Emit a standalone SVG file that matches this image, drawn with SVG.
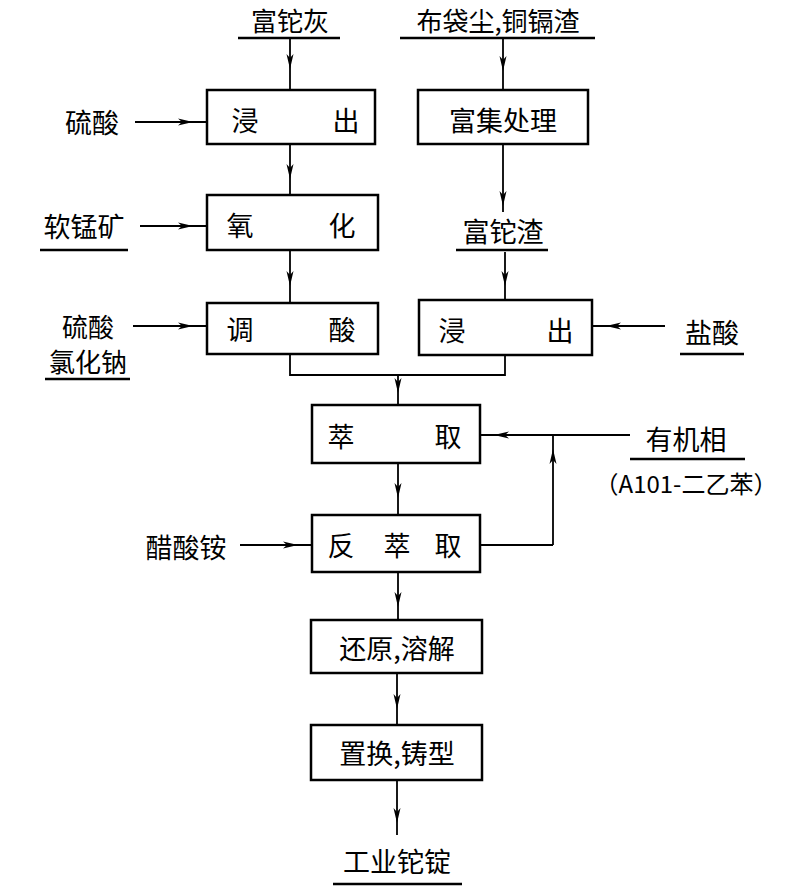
<svg xmlns="http://www.w3.org/2000/svg" width="801" height="890" viewBox="0 0 801 890">
<style>
.bx{fill:#fff;stroke:#000;stroke-width:2.5}
.ln{fill:none;stroke:#000;stroke-width:1.8}
.ul{fill:none;stroke:#000;stroke-width:2.5}
.ar{fill:none;stroke:#000;stroke-width:1.8;marker-mid:url(#ah)}
text{font-family:"Noto Sans CJK SC","Noto Sans",sans-serif;font-size:27px;fill:#000;text-anchor:middle;dominant-baseline:central}
.sm{font-size:24px}
.md{font-size:26px}
</style>
<defs>
<marker id="ah" viewBox="0 0 16 8" refX="14" refY="4" markerWidth="16" markerHeight="8" markerUnits="userSpaceOnUse" orient="auto">
<path d="M0,0.5 L15,4 L0,7.5 L4,4 Z" fill="#000"/>
</marker>
</defs>
<rect width="801" height="890" fill="#fff"/>
<g id="connectors">
<path class="ar" d="M290,38 L290,68 L290,90"/>
<path class="ar" d="M503,38 L503,70 L503,90"/>
<path class="ar" d="M290,145 L290,178 L290,195"/>
<path class="ar" d="M290,250 L290,285 L290,303"/>
<path class="ar" d="M503,143 L503,205 L503,212"/>
<path class="ar" d="M505,252 L505,285 L505,300"/>
<path class="ar" d="M135,122 L192,122 L207,122"/>
<path class="ar" d="M140,226 L192,226 L207,226"/>
<path class="ar" d="M133,326 L192,326 L207,326"/>
<path class="ar" d="M665,326 L607,326 L592,326"/>
<path class="ln" d="M290,354 L290,375 L505,375 L505,355"/>
<path class="ar" d="M398,375 L398,392 L398,405"/>
<path class="ar" d="M630,435 L495,435 L480,435"/>
<path class="ln" d="M480,545 L553,545"/>
<path class="ar" d="M553,545 L553,450 L553,435"/>
<path class="ar" d="M398,463 L398,497 L398,515"/>
<path class="ar" d="M240,545 L297,545 L312,545"/>
<path class="ar" d="M398,572 L398,606 L398,620"/>
<path class="ar" d="M397,674 L397,708 L397,725"/>
<path class="ar" d="M397,780 L397,822 L397,835"/>
</g>
<g id="label-fuluohui"><text class="md" x="290" y="19">富铊灰</text><path class="ul" d="M238,38 L340,38"/></g>
<g id="label-budaichen"><text class="md" x="498" y="19">布袋尘,铜镉渣</text><path class="ul" d="M400,38 L595,38"/></g>
<g id="label-liusuan1"><text x="92" y="121">硫酸</text></g>
<g id="label-ruanmengkuang"><text x="84" y="225">软锰矿</text><path class="ul" d="M40,250 L128,250"/></g>
<g id="label-liusuan2"><text class="md" x="88" y="325">硫酸</text><text class="md" x="88" y="360">氯化钠</text><path class="ul" d="M45,379 L130,379"/></g>
<g id="label-fuluozha"><text x="503" y="230">富铊渣</text><path class="ul" d="M456,250 L548,250"/></g>
<g id="label-yansuan"><text x="712" y="331">盐酸</text><path class="ul" d="M680,354 L744,354"/></g>
<g id="label-youjixiang"><text x="686" y="438">有机相</text><path class="ul" d="M630,459 L745,459"/><text class="sm" x="686" y="482">（A101-二乙苯）</text></g>
<g id="label-cusuan"><text x="186" y="546">醋酸铵</text></g>
<g id="node-jinchu1"><rect class="bx" x="207" y="90" width="168" height="54"/><text x="245" y="119">浸</text><text x="346" y="119">出</text></g>
<g id="node-fuji"><rect class="bx" x="418" y="90" width="170" height="54"/><text x="503" y="119">富集处理</text></g>
<g id="node-yanghua"><rect class="bx" x="207" y="195" width="171" height="55"/><text x="240" y="224">氧</text><text x="342" y="224">化</text></g>
<g id="node-tiaosuan"><rect class="bx" x="207" y="303" width="171" height="51"/><text x="240" y="328">调</text><text x="342" y="328">酸</text></g>
<g id="node-jinchu2"><rect class="bx" x="419" y="300" width="173" height="55"/><text x="452" y="329">浸</text><text x="560" y="329">出</text></g>
<g id="node-cuiqu"><rect class="bx" x="312" y="405" width="168" height="58"/><text x="341" y="435">萃</text><text x="448" y="435">取</text></g>
<g id="node-fancuiqu"><rect class="bx" x="312" y="515" width="168" height="57"/><text x="341" y="544">反</text><text x="397" y="544">萃</text><text x="448" y="544">取</text></g>
<g id="node-huanyuan"><rect class="bx" x="311" y="620" width="171" height="53"/><text x="397" y="647">还原,溶解</text></g>
<g id="node-zhihuan"><rect class="bx" x="311" y="725" width="171" height="55"/><text x="397" y="752">置换,铸型</text></g>
<g id="label-gongye"><text x="397" y="860">工业铊锭</text><path class="ul" d="M333,884 L462,884"/></g>
</svg>
